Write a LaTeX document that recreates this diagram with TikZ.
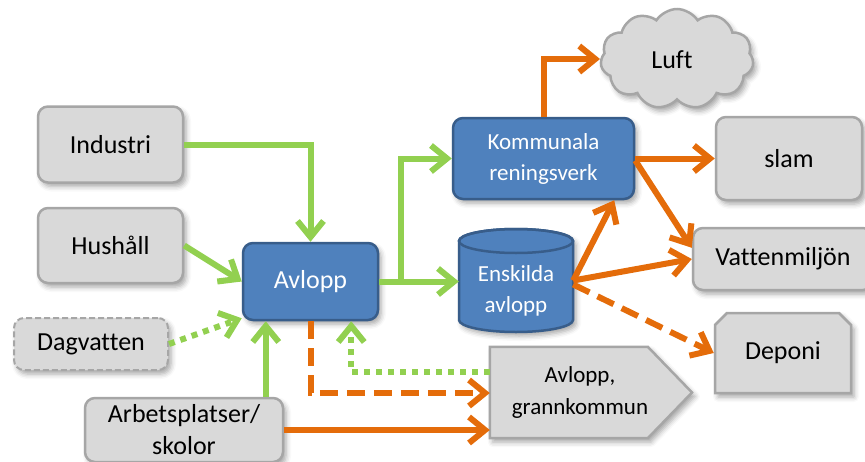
\documentclass[tikz,border=0pt]{standalone}
\usepackage{fontspec}
\setmainfont{Carlito}[Ligatures={NoCommon}]
\usetikzlibrary{arrows.meta,calc,shapes.symbols,shapes.misc,shadows.blur}
\definecolor{flowgreen}{HTML}{92D050}
\definecolor{floworange}{HTML}{E46C0A}
\definecolor{boxgray}{HTML}{D9D9D9}
\definecolor{edgegray}{HTML}{A6A6A6}
\definecolor{plantblue}{HTML}{4F81BD}
\definecolor{plantedge}{HTML}{385D8A}

\tikzset{
  softshadow/.style={blur shadow={shadow xshift=3pt,shadow yshift=-4pt,shadow blur radius=5pt,shadow opacity=35}},
  graybox/.style={draw=edgegray, line width=2.5pt, fill=boxgray, rounded corners=10pt,
    softshadow, text=black, font=\fontsize{26}{36}\selectfont, align=center, inner sep=0pt},
  bluebox/.style={draw=plantedge, line width=2.5pt, fill=plantblue, rounded corners=10pt,
    softshadow, text=white, align=center, inner sep=0pt},
  greenflow/.style={draw=flowgreen, line width=6pt, line join=miter,
    -{Straight Barb[length=16pt,width=26pt]}},
  orangeflow/.style={draw=floworange, line width=6pt, line join=miter,
    -{Straight Barb[length=16pt,width=26pt]}},
  dottedflow/.style={greenflow, dash pattern=on 6pt off 6pt},
  dashedflow/.style={orangeflow, dash pattern=on 18pt off 9pt},
}

\begin{document}
\begin{tikzpicture}[x=1pt,y=-1pt]
\useasboundingbox (0,0) rectangle (865,461);

% sources
\node[graybox, minimum width=145pt, minimum height=76pt] (industri) at (110.5,144.5) {Industri};
\node[graybox, minimum width=145pt, minimum height=75pt] (hushall) at (110.5,245.5) {Hushåll};
\node[graybox, dash pattern=on 6pt off 3pt, line width=2pt, minimum width=154pt, minimum height=52pt]
  (dagvatten) at (91,344) {Dagvatten};
\node[graybox, minimum width=198pt, minimum height=64pt, font=\fontsize{26}{33}\selectfont]
  (arbets) at (184,430) {Arbetsplatser/\\[-1pt]skolor};

% sewer and treatment
\node[bluebox, minimum width=135pt, minimum height=77pt, font=\fontsize{26}{32}\selectfont]
  (avlopp) at (310.5,281.5) {Avlopp};
\node[bluebox, minimum width=181pt, minimum height=81pt, font=\fontsize{23}{31}\selectfont]
  (komm) at (543.5,158.5) {Kommunala\\reningsverk};

% private sewage tank (cylinder)
\node[minimum width=114pt, minimum height=103pt, inner sep=0pt] (ensk) at (516,280.5) {};
\path[softshadow, fill=plantblue, draw=plantedge, line width=2.5pt]
  (459,241) -- (459,320) arc[start angle=180, end angle=0, x radius=57, y radius=12]
  -- (573,241) arc[start angle=0, end angle=-180, x radius=57, y radius=12] -- cycle;
\draw[plantedge, line width=2.5pt] (516,241) ellipse[x radius=57, y radius=12];
\node[text=white, align=center, font=\fontsize{23}{31}\selectfont] at (516,291) {Enskilda\\avlopp};

% recipients
\node[graybox, cloud, cloud puffs=11, cloud puff arc=115, aspect=1.5, rounded corners=0pt,
  minimum width=153pt, minimum height=100pt] (luft) at (677,59) {};
\node[font=\fontsize{26}{32}\selectfont] at (672,60) {Luft};
\node[graybox, minimum width=146pt, minimum height=83pt] (slam) at (789,158.5) {slam};
\node[graybox, minimum width=180pt, minimum height=62pt] (vatten) at (783,259) {Vattenmiljön};
\node[graybox, rounded corners=0pt, chamfered rectangle, chamfered rectangle corners={north west,north east},
  chamfered rectangle xsep=6pt, chamfered rectangle ysep=6pt,
  minimum width=136pt, minimum height=80pt] (deponi) at (783,353) {Deponi};

% neighbouring municipality (pentagon arrow)
\node[minimum width=180pt, minimum height=91pt, inner sep=0pt] (grannbox) at (580,392.5) {};
\path[softshadow, fill=boxgray, draw=edgegray, line width=2.5pt]
  (grannbox.north west) -- ++(158,0) -- (692,392.5) -- ($(grannbox.south west)+(158,0)$)
  -- (grannbox.south west) -- cycle;
\node[align=center, font=\fontsize{23}{32}\selectfont] (grann) at (580,392.5) {Avlopp,\\grannkommun};
\coordinate (grannw) at (grannbox.west);

% green inflows
\draw[greenflow] (industri.east) -| (avlopp.north);
\draw[greenflow] (hushall.east) -- (avlopp.west);
\draw[dottedflow] (dagvatten.east) -- ($(avlopp.south west)+(0,-3)$);
\coordinate (ga) at ($(avlopp.south west)+(24,0)$);
\draw[greenflow] (arbets.north -| ga) -- (ga);
\draw[greenflow] (avlopp.east) -- (avlopp.east -| ensk.west);
\draw[greenflow] ($(avlopp.east)+(22,0)$) |- (komm.west);
\coordinate (gd) at ($(avlopp.south east)+(-28,0)$);
\draw[dottedflow] ($(grannw)+(0,-20.5)$) -| (gd);

% orange outflows
\draw[dashedflow] (avlopp.south) |- ($(grannw)+(0,0.5)$);
\draw[orangeflow] (arbets.east) -- (arbets.east -| grannw);
\draw[orangeflow] (komm.north) |- (luft.west);
\draw[orangeflow] (komm.east) -- (slam.west);
\draw[orangeflow] ($(komm.east)+(0,2)$) -- ($(vatten.north west)+(0,21)$);
\draw[orangeflow] (ensk.east) -- (vatten.west);
\draw[orangeflow] (ensk.east) -- ($(komm.south east)+(-21,0)$);
\draw[dashedflow] ($(ensk.east)+(0,4)$) -- (deponi.west);
\end{tikzpicture}
\end{document}
